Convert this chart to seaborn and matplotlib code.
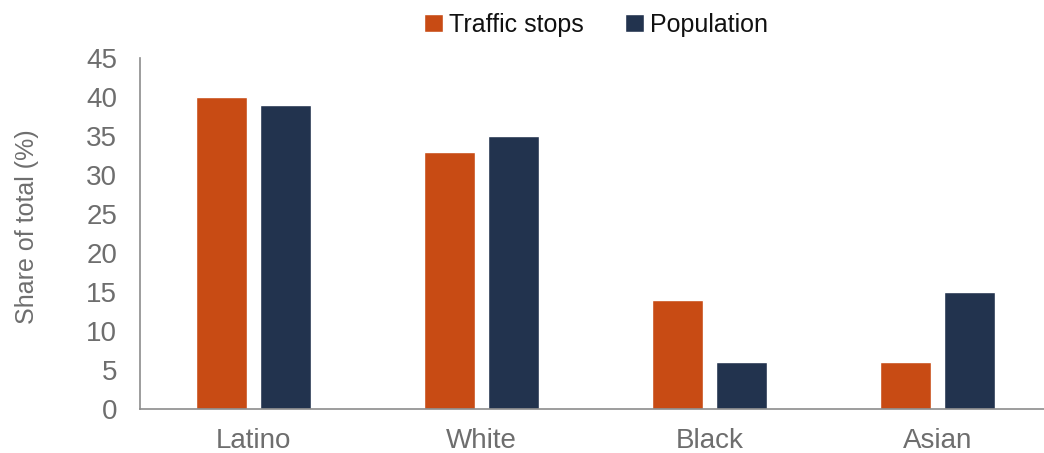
import matplotlib
matplotlib.use('Agg')
import matplotlib.pyplot as plt
import seaborn as sns
import pandas as pd

categories = ['Latino', 'White', 'Black', 'Asian']
traffic_stops = [40, 33, 14, 6]
population = [39, 35, 6, 15]
series_names = ['Traffic stops', 'Population']
yticks = [0, 5, 10, 15, 20, 25, 30, 35, 40, 45]

df = pd.DataFrame({
    'group': categories * 2,
    'series': [series_names[0]] * 4 + [series_names[1]] * 4,
    'value': traffic_stops + population,
})

sns.set_style('white')
plt.rcParams['font.family'] = ['Liberation Sans', 'DejaVu Sans']

fig = plt.figure(figsize=(10.44, 4.53), dpi=100)
ax = fig.add_axes([139.5 / 1044, 44 / 453, (1044 - 139.5) / 1044, 351 / 453])

colors = {'Traffic stops': '#C84B14', 'Population': '#22334E'}
sns.barplot(data=df, x='group', y='value', hue='series', palette=colors,
            width=0.56, gap=0.2, ax=ax, legend=True, saturation=1)

ax.set_xlim(-0.5, 3.5 - 7.5 / 228)
ax.set_ylim(0, 45)
ax.set_yticks(yticks)
ax.set_xlabel('')
ax.set_ylabel('Share of total (%)', fontsize=18, color='#6E6E6E')
ax.yaxis.set_label_coords(-0.111, 0.5185)
ax.tick_params(axis='both', length=0, labelsize=20, colors='#6E6E6E')
ax.tick_params(axis='x', pad=14)
ax.tick_params(axis='y', pad=16)

for s in ['top', 'right']:
    ax.spines[s].set_visible(False)
for s in ['left', 'bottom']:
    ax.spines[s].set_color('#8C8C8C')
    ax.spines[s].set_linewidth(1.2)

handles, labels = ax.get_legend_handles_labels()
ax.legend(handles, labels, loc='center', bbox_to_anchor=(0.505, 1.095),
          ncol=2, frameon=False, fontsize=18, handlelength=0.75, handleheight=0.75,
          handletextpad=0.25, columnspacing=1.65, labelcolor='#111111')

fig.savefig('out.png', dpi=100)
